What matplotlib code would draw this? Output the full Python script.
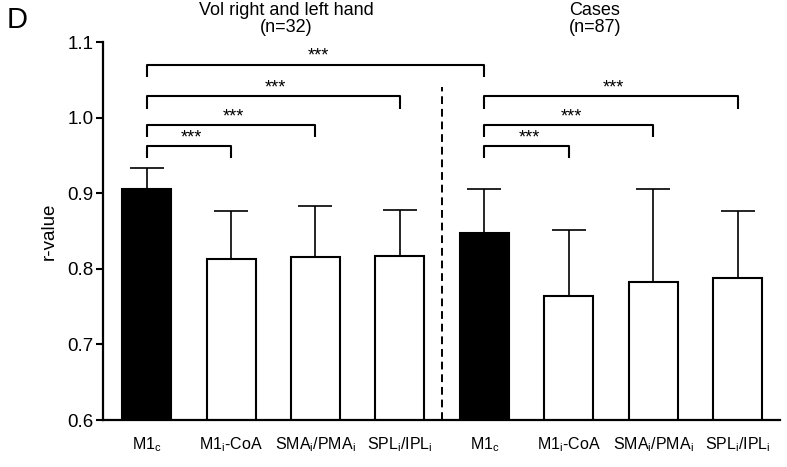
import matplotlib
matplotlib.use('Agg')
import matplotlib.pyplot as plt
import numpy as np

plt.rcParams['font.family'] = ['Liberation Sans', 'DejaVu Sans']
plt.rcParams['mathtext.fontset'] = 'custom'
plt.rcParams['mathtext.rm'] = 'Liberation Sans'
plt.rcParams['mathtext.it'] = 'Liberation Sans'

# data
labels = [r'M1$_{\mathregular{c}}$', r'M1$_{\mathregular{i}}$-CoA',
          r'SMA$_{\mathregular{i}}$/PMA$_{\mathregular{i}}$',
          r'SPL$_{\mathregular{i}}$/IPL$_{\mathregular{i}}$'] * 2
means = [0.905, 0.813, 0.815, 0.817, 0.847, 0.764, 0.782, 0.788]
err_top = [0.933, 0.876, 0.883, 0.878, 0.906, 0.851, 0.905, 0.877]
fills = ['black', 'white', 'white', 'white', 'black', 'white', 'white', 'white']
groups = ['Vol right and left hand\n(n=32)', 'Cases\n(n=87)']

# significance brackets: (from, to, height)
brackets = [(0, 1, 0.962), (0, 2, 0.990), (0, 3, 1.028), (0, 4, 1.070),
            (4, 5, 0.962), (4, 6, 0.990), (4, 7, 1.028)]

x = np.arange(len(means))
upper = np.array(err_top) - np.array(means)

fig = plt.figure(figsize=(7.87, 4.67), dpi=100)
ax = fig.add_axes([0.131, 0.1006, 0.860, 0.8094])

ax.errorbar(x, means, yerr=[np.zeros_like(upper), upper], fmt='none',
            ecolor='black', elinewidth=1.2, capsize=12, capthick=1.2, zorder=1)
ax.bar(x, means, width=0.58, bottom=0, color=fills, edgecolor='black',
       linewidth=1.5, zorder=2)

ax.set_ylim(0.6, 1.1)
ax.set_xlim(-0.515, 7.5)
ax.set_yticks([0.6, 0.7, 0.8, 0.9, 1.0, 1.1])
ax.set_yticklabels(['0.6', '0.7', '0.8', '0.9', '1.0', '1.1'])
ax.set_xticks(x)
ax.set_xticklabels(labels)
ax.tick_params(axis='x', length=0, pad=11, labelsize=11.5)
ax.tick_params(axis='y', length=5, width=1.5, labelsize=13.5, pad=2)
for s in ['top', 'right']:
    ax.spines[s].set_visible(False)
for s in ['left', 'bottom']:
    ax.spines[s].set_linewidth(1.6)
ax.set_ylabel('r-value', fontsize=13.5, labelpad=7)

# dashed separator
ax.plot([3.5, 3.5], [0.6, 1.04], ls=(0, (4, 2.5)), color='black', lw=1.4,
        clip_on=False)

tick = 0.016
for a, b, h in brackets:
    ax.plot([a, a, b, b], [h - tick, h, h, h - tick], color='black', lw=1.5,
            clip_on=False, solid_capstyle='butt')
    ax.text((a + b) / 2 + 0.03, h + 0.0, '***', ha='center', va='bottom',
            fontsize=13, clip_on=False)

fig.text(0.364, 0.995, groups[0], ha='center', va='top', fontsize=13,
         linespacing=1.0)
fig.text(0.756, 0.995, groups[1], ha='center', va='top', fontsize=13,
         linespacing=1.0)

fig.text(0.008, 0.94, 'D', fontsize=21, ha='left', va='baseline')

fig.savefig('out.png', dpi=100)
